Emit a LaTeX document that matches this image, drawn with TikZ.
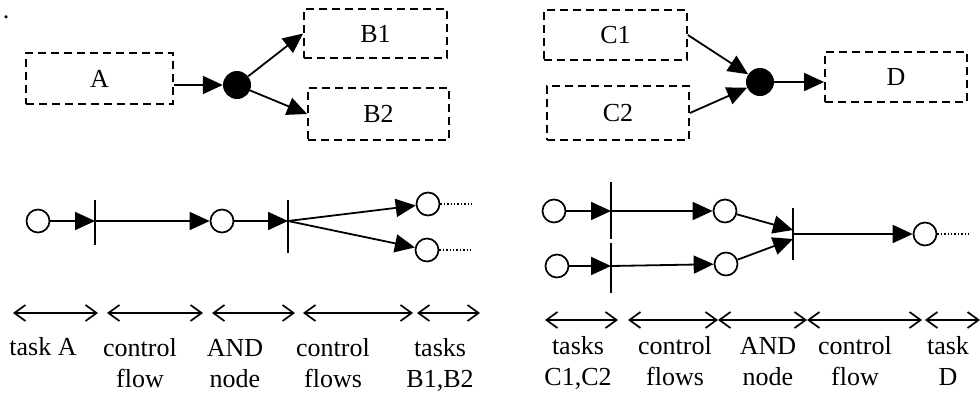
\documentclass[tikz,border=0pt]{standalone}
\usepackage{fontspec}
\setmainfont{Liberation Serif}
\usetikzlibrary{arrows.meta,calc}
\begin{document}
\begin{tikzpicture}[x=1pt,y=-1pt,
  every node/.style={font=\fontsize{26}{31}\selectfont},
  taskbox/.style={draw,dashed,dash pattern=on 8pt off 5pt,line width=1.8pt,inner sep=0pt},
  anddot/.style={circle,fill=black,inner sep=0pt,minimum size=28pt},
  place/.style={circle,draw,line width=1.7pt,inner sep=0pt,minimum size=23pt},
  flow/.style={line width=1.8pt,-{Triangle[length=20pt,width=18pt]}},
  bar/.style={line width=1.8pt},
  span/.style={line width=1.7pt,{Straight Barb[length=11pt,width=16pt]}-{Straight Barb[length=11pt,width=16pt]}},
  lbl/.style={align=center,anchor=base,inner sep=0pt},
  trail/.style={line width=1.4pt,dotted}]
\useasboundingbox (0,0) rectangle (980,394);
\node[anchor=base,inner sep=0pt] (dotmark) at (6,18) {.};
% top left
\node[taskbox,minimum width=147pt,minimum height=51pt] (A) at (99.5,78.5) {A};
\node[taskbox,minimum width=143pt,minimum height=49pt] (B1) at (375.5,33.5) {B1};
\node[taskbox,minimum width=141pt,minimum height=52pt] (B2) at (378.5,114) {B2};
\node[anddot] (and1) at (237,85) {};
\draw[flow] (A.east |- and1) -- (and1);
\draw[flow] (and1) -- (B1.west);
\draw[flow] (and1) -- (B2.west);
% top right
\node[taskbox,minimum width=143pt,minimum height=50pt] (C1) at (615.5,35) {C1};
\node[taskbox,minimum width=142pt,minimum height=54pt] (C2) at (618,113) {C2};
\node[taskbox,minimum width=142pt,minimum height=50pt] (D) at (896,77) {D};
\node[anddot] (and2) at (760,82) {};
\draw[flow] (C1.east) -- (and2);
\draw[flow] (C2.east) -- (and2);
\draw[flow] (and2) -- (and2 -| D.west);
% bottom left net
\node[place] (t1) at (38,221) {};
\node[place] (t2) at (222,221) {};
\node[place] (t3) at (428,204) {};
\node[place] (t4) at (427,250) {};
\coordinate (b1top) at (95,200); \coordinate (b1bot) at (95,245); \coordinate (b1) at (95,221);
\coordinate (b2top) at (288,200); \coordinate (b2bot) at (288,253); \coordinate (b2) at (288,221);
\draw[bar] (b1top) -- (b1bot);
\draw[bar] (b2top) -- (b2bot);
\draw[flow] (t1) -- (b1);
\draw[flow] (b1) -- (t2);
\draw[flow] (t2) -- (b2);
\draw[flow] (b2) -- (t3);
\draw[flow] (b2) -- (t4);
\coordinate (e3) at (472,204); \coordinate (e4) at (470,250);
\draw[trail] (t3) -- (e3);
\draw[trail] (t4) -- (e4);
% bottom right net
\node[place] (u1) at (554,211) {};
\node[place] (u2) at (557,266) {};
\node[place] (v1) at (725,211) {};
\node[place] (v2) at (726,264) {};
\node[place] (w) at (925,234) {};
\coordinate (c1top) at (611,182); \coordinate (c1bot) at (611,239); \coordinate (c1) at (611,211);
\coordinate (c2top) at (611,243); \coordinate (c2bot) at (611,293); \coordinate (c2) at (611,266);
\coordinate (c3top) at (793,208); \coordinate (c3bot) at (793,260); \coordinate (c3) at (793,234);
\coordinate (c3a) at (793,230); \coordinate (c3b) at (793,239);
\draw[bar] (c1top) -- (c1bot);
\draw[bar] (c2top) -- (c2bot);
\draw[bar] (c3top) -- (c3bot);
\draw[flow] (u1) -- (c1);
\draw[flow] (c1) -- (v1);
\draw[flow] (u2) -- (c2);
\draw[flow] (c2) -- (v2);
\draw[flow] (v1) -- (c3a);
\draw[flow] (v2) -- (c3b);
\draw[flow] (c3) -- (w);
\coordinate (ew) at (970,234);
\draw[trail] (w) -- (ew);
% spans left
\coordinate (p0) at (13,313); \coordinate (p1) at (98,313);
\coordinate (p2) at (107,313); \coordinate (p3) at (203,313);
\coordinate (p4) at (212,313); \coordinate (p5) at (295,313);
\coordinate (p6) at (303,313); \coordinate (p7) at (413,313);
\coordinate (p8) at (417,313); \coordinate (p9) at (480,313);
\draw[span] (p0) -- (p1);
\draw[span] (p2) -- (p3);
\draw[span] (p4) -- (p5);
\draw[span] (p6) -- (p7);
\draw[span] (p8) -- (p9);
\node[lbl] (la) at (43,355) {task A};
\node[lbl] (lb) at (140,387) {control\\flow};
\node[lbl] (lc) at (235,387) {AND\\node};
\node[lbl] (ld) at (333,387) {control\\flows};
\node[lbl] (le) at (440,387) {tasks\\B1,B2};
% spans right
\coordinate (q0) at (545,320); \coordinate (q1) at (618,320);
\coordinate (q2) at (628,320); \coordinate (q3) at (718,320);
\coordinate (q4) at (718,320); \coordinate (q5) at (807,320);
\coordinate (q6) at (807,320); \coordinate (q7) at (922,320);
\coordinate (q8) at (925,320); \coordinate (q9) at (980,320);
\draw[span] (q0) -- (q1);
\draw[span] (q2) -- (q3);
\draw[span] (q4) -- (q5);
\draw[span] (q6) -- (q7);
\draw[span] (q8) -- (q9);
\node[lbl] (ma) at (578,385) {tasks\\C1,C2};
\node[lbl] (mb) at (675,385) {control\\flows};
\node[lbl] (mc) at (768,385) {AND\\node};
\node[lbl] (md) at (855,385) {control\\flow};
\node[lbl] (me) at (948,385) {task\\D};
\end{tikzpicture}
\end{document}
